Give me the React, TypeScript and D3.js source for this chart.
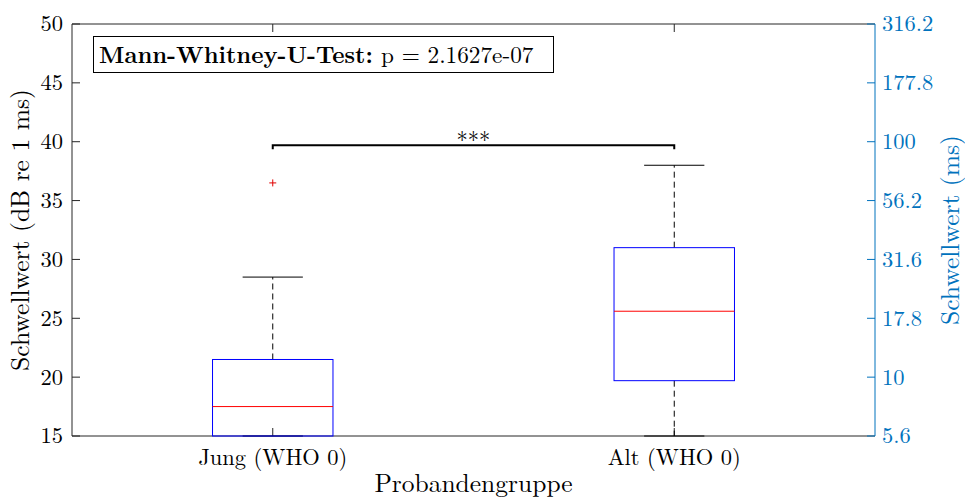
import React, { useEffect, useRef } from "react";
import * as d3 from "d3";

const categories = ["Jung (WHO 0)", "Alt (WHO 0)"];
const whiskerLow = [15, 15];
const q1 = [15, 19.7];
const median = [17.5, 25.6];
const q3 = [21.5, 31];
const whiskerHigh = [28.5, 38];
const outliers = [[36.5], [] as number[]];
const yTicks = [15, 20, 25, 30, 35, 40, 45, 50];
const rightTickLabels = ["5.6", "10", "17.8", "31.6", "56.2", "100", "177.8", "316.2"];
const pText = "p = 2.1627e-07";
const testLabel = "Mann-Whitney-U-Test:";
const sigLevel = 39.7;
const sigText = "***";

const W = 965, H = 499;
const M = { left: 72, right: 875, top: 24, bottom: 436 };
const FONT = '"Latin Modern Roman", "Liberation Serif", serif';
const AX = "#262626";
const BLUE2 = "#0072BD";
const FS = 22.5;
const LS = 25.5;

export default function App() {
  const ref = useRef<SVGSVGElement>(null);
  useEffect(() => {
    const svg = d3.select(ref.current);
    svg.selectAll("*").remove();
    const x = d3.scaleLinear().domain([0.5, 2.5]).range([M.left, M.right]);
    const y = d3.scaleLinear().domain([15, 50]).range([M.bottom, M.top]);
    const g = svg.append("g");
    const txt = (sel: any, size: number, fill: string) =>
      sel.style("font-family", FONT).style("font-size", size + "px").attr("fill", fill);

    g.append("line").attr("x1", M.left).attr("x2", M.right).attr("y1", M.top).attr("y2", M.top).attr("stroke", AX);
    g.append("line").attr("x1", M.left).attr("x2", M.right).attr("y1", M.bottom).attr("y2", M.bottom).attr("stroke", AX);
    g.append("line").attr("x1", M.left).attr("x2", M.left).attr("y1", M.top).attr("y2", M.bottom).attr("stroke", AX);
    g.append("line").attr("x1", M.right).attr("x2", M.right).attr("y1", M.top).attr("y2", M.bottom).attr("stroke", BLUE2);

    yTicks.forEach((t, i) => {
      g.append("line").attr("x1", M.left).attr("x2", M.left + 8).attr("y1", y(t)).attr("y2", y(t)).attr("stroke", AX);
      txt(g.append("text").attr("x", M.left - 9).attr("y", y(t)).attr("dy", "0.33em").attr("text-anchor", "end"), FS, "#000").text(String(t));
      g.append("line").attr("x1", M.right - 8).attr("x2", M.right).attr("y1", y(t)).attr("y2", y(t)).attr("stroke", BLUE2);
      txt(g.append("text").attr("x", M.right + 7).attr("y", y(t)).attr("dy", "0.33em").attr("text-anchor", "start"), FS, BLUE2).text(rightTickLabels[i]);
    });

    categories.forEach((c, i) => {
      const cx = x(i + 1);
      g.append("line").attr("x1", cx).attr("x2", cx).attr("y1", M.bottom).attr("y2", M.bottom - 8).attr("stroke", AX);
      g.append("line").attr("x1", cx).attr("x2", cx).attr("y1", M.top).attr("y2", M.top + 8).attr("stroke", AX);
      txt(g.append("text").attr("x", cx).attr("y", M.bottom + 29).attr("text-anchor", "middle"), FS, "#000").text(c);

      const bw = x(1.15) - x(1);
      const cw = x(1.075) - x(1);
      g.append("line").attr("x1", cx).attr("x2", cx).attr("y1", y(q3[i])).attr("y2", y(whiskerHigh[i]))
        .attr("stroke", "#000").attr("stroke-dasharray", "6,4");
      g.append("line").attr("x1", cx).attr("x2", cx).attr("y1", y(q1[i])).attr("y2", y(whiskerLow[i]))
        .attr("stroke", "#000").attr("stroke-dasharray", "6,4");
      g.append("line").attr("x1", cx - cw).attr("x2", cx + cw).attr("y1", y(whiskerHigh[i])).attr("y2", y(whiskerHigh[i])).attr("stroke", "#000");
      g.append("line").attr("x1", cx - cw).attr("x2", cx + cw).attr("y1", y(whiskerLow[i])).attr("y2", y(whiskerLow[i])).attr("stroke", "#000");
      g.append("rect").attr("x", cx - bw).attr("y", y(q3[i])).attr("width", 2 * bw).attr("height", y(q1[i]) - y(q3[i]))
        .attr("fill", "none").attr("stroke", "#0000FF");
      g.append("line").attr("x1", cx - bw).attr("x2", cx + bw).attr("y1", y(median[i])).attr("y2", y(median[i])).attr("stroke", "#FF0000");
      outliers[i].forEach((o) => {
        g.append("path").attr("d", `M${cx - 3.5},${y(o)}H${cx + 3.5}M${cx},${y(o) - 3.5}V${y(o) + 3.5}`).attr("stroke", "#E00000").attr("fill", "none");
      });
    });

    const x1 = x(1), x2 = x(2), sy = y(sigLevel);
    g.append("path").attr("d", `M${x1},${sy + 4}V${sy}H${x2}V${sy + 4}`).attr("fill", "none").attr("stroke", "#000").attr("stroke-width", 2);
    txt(g.append("text").attr("x", (x1 + x2) / 2).attr("y", sy + 3).attr("text-anchor", "middle"), FS, "#000").text(sigText);

    // annotation box: bold label sized to fit 99..373, p-part 381..531
    g.append("rect").attr("x", 93.5).attr("y", 36.5).attr("width", 460).attr("height", 36).attr("fill", "#fff").attr("stroke", "#000");
    const lab = txt(g.append("text").attr("x", 99).attr("y", 63), 22, "#000").style("font-weight", "bold").text(testLabel);
    const lw = (lab.node() as SVGTextElement).getComputedTextLength();
    const afs = lw > 0 ? 22 * 274 / lw : 22;
    lab.style("font-size", afs + "px");
    const pt = txt(g.append("text").attr("x", 381).attr("y", 63), afs, "#000").text(pText);
    const pw = (pt.node() as SVGTextElement).getComputedTextLength();
    if (pw > 0 && Math.abs(pw - 150) > 3) pt.attr("textLength", 150).attr("lengthAdjust", "spacing");

    txt(g.append("text").attr("transform", `translate(29,${(M.top + M.bottom) / 2}) rotate(-90)`).attr("text-anchor", "middle"), LS, "#000")
      .text("Schwellwert (dB re 1 ms)");
    txt(g.append("text").attr("transform", `translate(959,${(M.top + M.bottom) / 2}) rotate(-90)`).attr("text-anchor", "middle"), LS, BLUE2)
      .text("Schwellwert (ms)");
    txt(g.append("text").attr("x", (M.left + M.right) / 2).attr("y", 492).attr("text-anchor", "middle"), LS, "#000")
      .text("Probandengruppe");
  }, []);
  return (
    <svg ref={ref} width={W} height={H} style={{ position: "absolute", left: 0, top: 0, background: "#fff" }} />
  );
}
